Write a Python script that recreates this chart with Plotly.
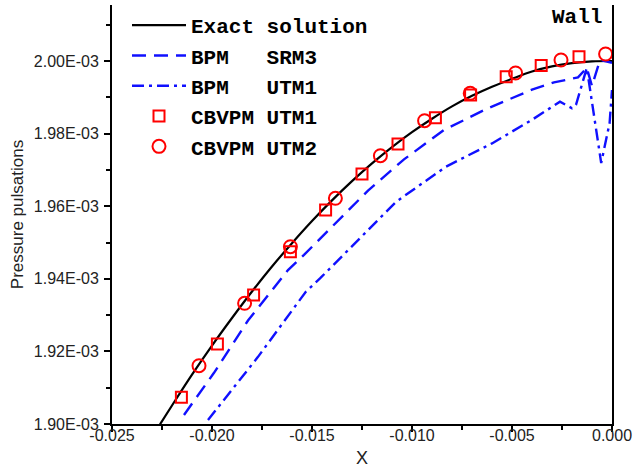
import plotly.graph_objects as go

# ---- data ----
exact_x = [-0.0226, -0.022, -0.021, -0.020, -0.019, -0.018, -0.017, -0.016, -0.015, -0.014,
           -0.013, -0.012, -0.011, -0.010, -0.009, -0.008, -0.007, -0.006, -0.005, -0.004,
           -0.003, -0.002, -0.001, 0.0]
exact_y = [1.8999e-3, 1.9051e-3, 1.9136e-3, 1.9216e-3, 1.9292e-3, 1.9365e-3, 1.9434e-3, 1.9498e-3,
           1.9559e-3, 1.9616e-3, 1.9669e-3, 1.9718e-3, 1.9763e-3, 1.9804e-3, 1.9841e-3, 1.9875e-3,
           1.9904e-3, 1.9929e-3, 1.9951e-3, 1.9971e-3, 1.9985e-3, 1.9994e-3, 1.9999e-3, 2.0000e-3]

bpm_srm3_x = [-0.0214, -0.0199, -0.0182, -0.0162, -0.0154, -0.0122, -0.0104, -0.0084, -0.0062,
              -0.0040, -0.0029, -0.0017, -0.00126, -0.0010, -0.0006, 0.0]
bpm_srm3_y = [1.9025e-3, 1.9141e-3, 1.9285e-3, 1.9424e-3, 1.9466e-3, 1.9643e-3, 1.9729e-3, 1.9810e-3,
              1.9870e-3, 1.9921e-3, 1.9941e-3, 1.9955e-3, 1.9981e-3, 1.9931e-3, 2.0003e-3, 1.9995e-3]

bpm_utm1_x = [-0.0202, -0.0177, -0.0153, -0.0146, -0.0108, -0.0083, -0.0060, -0.0040, -0.0026,
              -0.0020, -0.0018, -0.00126, -0.00054, -0.00012, 0.0]
bpm_utm1_y = [1.9011e-3, 1.9185e-3, 1.9365e-3, 1.9401e-3, 1.9612e-3, 1.9709e-3, 1.9773e-3, 1.9838e-3,
              1.9888e-3, 1.9870e-3, 1.9879e-3, 1.9981e-3, 1.9719e-3, 1.9829e-3, 1.9920e-3]

cbvpm_utm1_x = [-0.02153, -0.01973, -0.01792, -0.01608, -0.01432, -0.0125, -0.0107, -0.00883,
                -0.00707, -0.00529, -0.00354, -0.00165]
cbvpm_utm1_y = [1.90736e-3, 1.92204e-3, 1.93554e-3, 1.94747e-3, 1.95895e-3, 1.96887e-3, 1.97713e-3,
                1.98438e-3, 1.99063e-3, 1.99567e-3, 1.99876e-3, 2.00118e-3]

cbvpm_utm2_x = [-0.02065, -0.01837, -0.01608, -0.01383, -0.01158, -0.00937, -0.00709, -0.00482,
                -0.00255, -0.00032]
cbvpm_utm2_y = [1.91606e-3, 1.93325e-3, 1.94884e-3, 1.96218e-3, 1.97391e-3, 1.98355e-3, 1.99110e-3,
                1.99670e-3, 2.00028e-3, 2.00193e-3]

y_tick_vals = [1.90e-3, 1.92e-3, 1.94e-3, 1.96e-3, 1.98e-3, 2.00e-3]
y_tick_text = ["1.90E-03", "1.92E-03", "1.94E-03", "1.96E-03", "1.98E-03", "2.00E-03"]
x_tick_vals = [-0.025, -0.020, -0.015, -0.010, -0.005, 0.0]
x_tick_text = ["-0.025", "-0.020", "-0.015", "-0.010", "-0.005", "0.000"]

NB = "\u00a0"
names = ["Exact solution", "BPM" + NB * 3 + "SRM3", "BPM" + NB * 3 + "UTM1",
         "CBVPM" + NB + "UTM1", "CBVPM" + NB + "UTM2"]

fig = go.Figure()
fig.add_trace(go.Scatter(x=exact_x, y=exact_y, mode="lines", name=names[0],
                         line=dict(color="black", width=2.2), line_shape="spline"))
fig.add_trace(go.Scatter(x=bpm_srm3_x, y=bpm_srm3_y, mode="lines", name=names[1],
                         line=dict(color="#1010ff", width=2.4, dash="14px,8px")))
fig.add_trace(go.Scatter(x=bpm_utm1_x, y=bpm_utm1_y, mode="lines", name=names[2],
                         line=dict(color="#1010ff", width=2.4, dash="12px,5px,3px,5px")))
fig.add_trace(go.Scatter(x=cbvpm_utm1_x, y=cbvpm_utm1_y, mode="markers", name=names[3],
                         marker=dict(symbol="square-open", size=11, color="#ff0000",
                                     line=dict(width=2, color="#ff0000"))))
fig.add_trace(go.Scatter(x=cbvpm_utm2_x, y=cbvpm_utm2_y, mode="markers", name=names[4],
                         marker=dict(symbol="circle-open", size=13, color="#ff0000",
                                     line=dict(width=2, color="#ff0000"))))

axis_font = dict(family="Liberation Sans, Arial, sans-serif", size=16, color="#222")
fig.update_layout(
    width=633, height=468,
    margin=dict(l=112, r=21, t=5, b=44),
    plot_bgcolor="white", paper_bgcolor="white",
    showlegend=True,
    legend=dict(x=0.03, y=1.0, xanchor="left", yanchor="top",
                bgcolor="rgba(0,0,0,0)", borderwidth=0,
                font=dict(family="Liberation Mono, Courier New, monospace", size=21,
                          color="black", weight="bold"),
                itemwidth=54, tracegroupgap=0),
    xaxis=dict(range=[-0.025, 0.0], tickvals=x_tick_vals, ticktext=x_tick_text,
               automargin=False,
               showgrid=False, zeroline=False, showline=True, linecolor="black", linewidth=2,
               ticks="outside", ticklen=6, tickwidth=1.5, tickcolor="black",
               ticklabelstandoff=-10,
               minor=dict(ticks="outside", ticklen=4, tickwidth=1.5, tickcolor="black", dtick=0.0025,
                          tick0=-0.025, showgrid=False),
               tickfont=axis_font, mirror=False,
               title=dict(text="X", font=dict(family="Liberation Sans, Arial, sans-serif", size=18,
                                              color="#222"))),
    yaxis=dict(range=[1.90e-3, 2.01543e-3], tickvals=y_tick_vals, ticktext=y_tick_text,
               automargin=False,
               showgrid=False, zeroline=False, showline=True, linecolor="black", linewidth=2,
               ticks="outside", ticklen=6, tickwidth=1.5, tickcolor="black",
               ticklabelstandoff=2,
               minor=dict(ticks="outside", ticklen=4, tickwidth=1.5, tickcolor="black", dtick=0.01e-3,
                          tick0=1.90e-3, showgrid=False),
               tickfont=axis_font, mirror=True,
               title=dict(text="Pressure pulsations", standoff=6,
                          font=dict(family="Liberation Sans, Arial, sans-serif", size=17,
                                    color="#222"))),
    annotations=[dict(text="Wall", xref="paper", yref="paper", x=0.983, y=0.969,
                      xanchor="right", yanchor="middle", showarrow=False,
                      font=dict(family="Liberation Mono, Courier New, monospace", size=21,
                                color="black", weight="bold"))],
)

fig.write_html("out.html", config={"displayModeBar": False},
               post_script="document.body.style.margin='0px';")
